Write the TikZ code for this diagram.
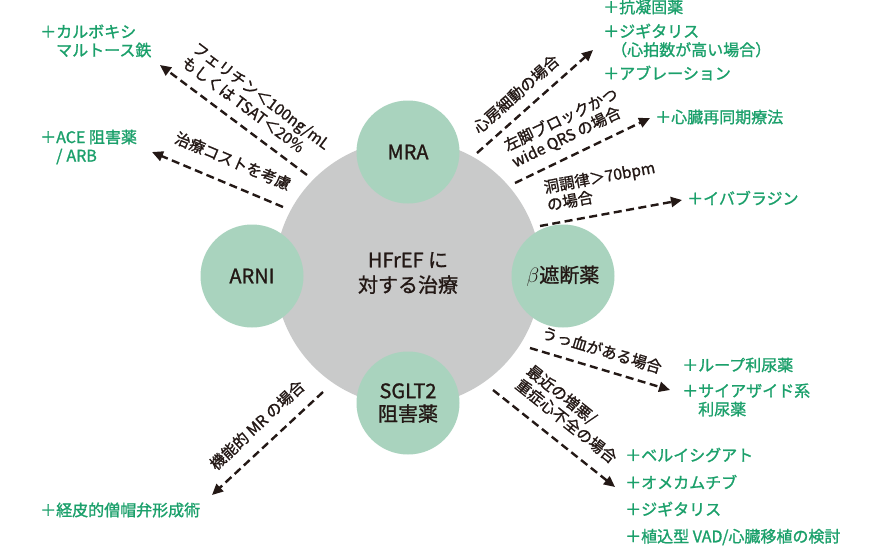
\documentclass[tikz,border=0pt]{standalone}
\usepackage{fontspec}
\setmainfont{Noto Sans CJK JP}[FakeBold=1.2]
\usetikzlibrary{arrows.meta}
\definecolor{hubgray}{HTML}{C9CACA}
\definecolor{leaf}{HTML}{A9D3BE}
\definecolor{gtext}{HTML}{1BA06B}
\definecolor{ink}{HTML}{231815}
\begin{document}
\begin{tikzpicture}[x=1pt,y=-1pt,
  hubc/.style={circle, fill=hubgray, minimum size=266pt, inner sep=0pt, text=ink, align=center, font=\fontsize{20}{25}\selectfont},
  leafc/.style={circle, fill=leaf, minimum size=103pt, inner sep=0pt, font=\fontsize{20}{23}\selectfont, text=ink, align=center},
  flow/.style={draw=ink, line width=2.4pt, dash pattern=on 8pt off 4.5pt, -{Triangle[length=11pt,width=10pt]}},
  cond/.style={font=\fontsize{15.5}{18}\selectfont, text=ink, align=left, inner sep=0pt, anchor=center},
  drug/.style={anchor=west, font=\fontsize{16}{18.5}\selectfont, text=gtext, align=left, inner sep=0pt},
]
\useasboundingbox (0,0) rectangle (888,554);
\fill[white] (0,0) rectangle (888,554);

% hub and satellites
\node[hubc] (hub) at (408,273) {HFrEF に\\対する治療};
\node[leafc] (mra) at (408,152) {MRA};
\node[leafc] (arni) at (252,276) {ARNI};
\node[leafc] (beta) at (563,276) {$\beta$遮断薬};
\node[leafc] (sglt) at (408,403) {SGLT2\\阻害薬};

% drug texts
\node[drug] (iron) at (40,41) {＋カルボキシ\\\phantom{＋}マルトース鉄};
\node[drug] (ace) at (40,147) {＋ACE 阻害薬\\\phantom{＋}/\hspace{0.25em}ARB};
\node[drug] (antico) at (603,7) {＋抗凝固薬};
\node[drug] (digi1) at (603,40.5) {＋ジギタリス\\\hspace{0.5em}（心拍数が高い場合）};
\node[drug] (abl) at (603,73) {＋アブレーション};
\node[drug] (crt) at (655,117) {＋心臓再同期療法};
\node[drug] (ivab) at (687,198) {＋イバブラジン};
\node[drug] (loop) at (682,365) {＋ループ利尿薬};
\node[drug] (thia) at (682,400) {＋サイアザイド系\\\phantom{＋}利尿薬};
\node[drug] (veri) at (625,455) {＋ベルイシグアト};
\node[drug] (omec) at (625,482) {＋オメカムチブ};
\node[drug] (digi2) at (625,509) {＋ジギタリス};
\node[drug] (vad) at (625,537) {＋植込型 VAD/心臓移植の検討};
\node[drug] (mitra) at (40,510) {＋経皮的僧帽弁形成術};

% connector ends
\coordinate (s1) at (307,175); \coordinate (e1) at (160,65);
\coordinate (s2) at (283,207); \coordinate (e2) at (152,152);
\coordinate (s3) at (477,153); \coordinate (e3) at (593,50);
\coordinate (s4) at (515,183); \coordinate (e4) at (650,118);
\coordinate (s5) at (540,226); \coordinate (e5) at (682,200);
\coordinate (s6) at (530,348); \coordinate (e6) at (670,390);
\coordinate (s7) at (493,390); \coordinate (e7) at (615,487);
\coordinate (s8) at (323,392); \coordinate (e8) at (212,495);

\draw[flow] (s1) -- (e1);
\draw[flow] (s2) -- (e2);
\draw[flow] (s3) -- (e3);
\draw[flow] (s4) -- (e4);
\draw[flow] (s5) -- (e5);
\draw[flow] (s6) -- (e6);
\draw[flow] (s7) -- (e7);
\draw[flow] (s8) -- (e8);

% condition labels
\node[cond, rotate=-36.8] (c1) at (256,103) {フェリチン＜100ng/mL\\もしくは TSAT＜20\%};
\node[cond, rotate=-22.8] (c2) at (233,161) {治療コストを考慮};
\node[cond, rotate=41.6] (c3) at (516,94) {心房細動の場合};
\node[cond, rotate=25.7] (c4) at (565,128) {左脚ブロックかつ\\wide QRS の場合};
\node[cond, rotate=10.4] (c5) at (601,186) {洞調律＞70bpm\\の場合};
\node[cond, rotate=-16.7] (c6) at (602,350) {うっ血がある場合};
\node[cond, rotate=-38.5] (c7) at (572,414) {最近の増悪/\\重症心不全の場合};
\node[cond, rotate=42.9] (c8) at (257,425) {機能的 MR の場合};
\end{tikzpicture}
\end{document}
